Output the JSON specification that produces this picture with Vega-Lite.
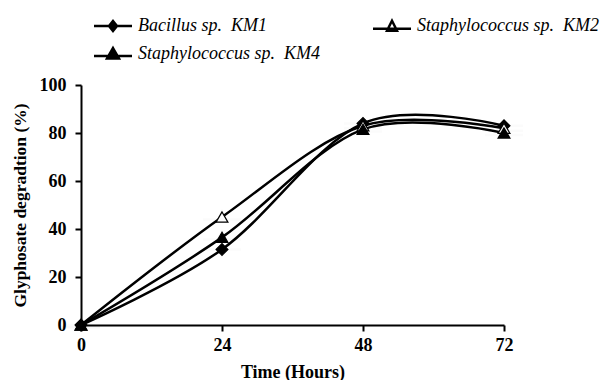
{
  "$schema": "https://vega.github.io/schema/vega-lite/v6.json",
  "autosize": "none",
  "width": 423,
  "height": 240,
  "padding": {"left": 81, "top": 85, "right": 102, "bottom": 55},
  "background": "white",
  "config": {
    "view": {"stroke": null},
    "font": "Liberation Serif",
    "axis": {
      "grid": false,
      "domainColor": "black",
      "domainWidth": 2,
      "tickColor": "black",
      "tickWidth": 2,
      "tickSize": 6,
      "labelFont": "Liberation Serif",
      "labelFontWeight": "bold",
      "labelFontSize": 18,
      "labelColor": "black",
      "titleFont": "Liberation Serif",
      "titleFontWeight": "bold",
      "titleColor": "black"
    }
  },
  "data": {
    "values": [
      {"time": 0, "series": "Bacillus sp. \u00a0KM1", "value": 0},
      {"time": 24, "series": "Bacillus sp. \u00a0KM1", "value": 31.5},
      {"time": 48, "series": "Bacillus sp. \u00a0KM1", "value": 84},
      {"time": 72, "series": "Bacillus sp. \u00a0KM1", "value": 83},
      {"time": 0, "series": "Staphylococcus sp. \u00a0KM2", "value": 0},
      {"time": 24, "series": "Staphylococcus sp. \u00a0KM2", "value": 45},
      {"time": 48, "series": "Staphylococcus sp. \u00a0KM2", "value": 83},
      {"time": 72, "series": "Staphylococcus sp. \u00a0KM2", "value": 82},
      {"time": 0, "series": "\u00a0Staphylococcus sp. \u00a0KM4", "value": 0},
      {"time": 24, "series": "\u00a0Staphylococcus sp. \u00a0KM4", "value": 36.5},
      {"time": 48, "series": "\u00a0Staphylococcus sp. \u00a0KM4", "value": 81.5},
      {"time": 72, "series": "\u00a0Staphylococcus sp. \u00a0KM4", "value": 80}
    ]
  },
  "encoding": {
    "x": {
      "field": "time", "type": "quantitative",
      "scale": {"domain": [0, 72], "nice": false, "zero": false},
      "axis": {"values": [0, 24, 48, 72], "title": "Time (Hours)", "titleFontSize": 18, "labelPadding": 5, "titlePadding": 9, "labelFlush": false}
    },
    "y": {
      "field": "value", "type": "quantitative",
      "scale": {"domain": [0, 100], "nice": false},
      "axis": {"values": [0, 20, 40, 60, 80, 100], "title": "Glyphosate degradtion (%)", "titleFontSize": 17.5, "labelPadding": 9, "titlePadding": 10}
    }
  },
  "layer": [
    {
      "mark": {"type": "line", "interpolate": "cardinal", "color": "black", "strokeWidth": 2.5},
      "encoding": {"detail": {"field": "series"}}
    },
    {
      "mark": {"type": "point", "filled": false, "stroke": "black", "strokeWidth": 1.2, "size": 140, "opacity": 1},
      "encoding": {
        "shape": {
          "field": "series", "type": "nominal",
          "scale": {"domain": ["Bacillus sp. \u00a0KM1", "Staphylococcus sp. \u00a0KM2", "\u00a0Staphylococcus sp. \u00a0KM4"], "range": ["diamond", "triangle-up", "triangle-up"]},
          "legend": null
        },
        "fill": {
          "field": "series", "type": "nominal",
          "scale": {"domain": ["Bacillus sp. \u00a0KM1", "Staphylococcus sp. \u00a0KM2", "\u00a0Staphylococcus sp. \u00a0KM4"], "range": ["black", "white", "black"]},
          "legend": null
        }
      }
    },
    {
      "mark": {"type": "point", "filled": true, "strokeWidth": 2.5, "size": 100, "opacity": 0.01},
      "encoding": {
        "fill": {
          "field": "series", "type": "nominal",
          "scale": {"domain": ["Bacillus sp. \u00a0KM1", "Staphylococcus sp. \u00a0KM2", "\u00a0Staphylococcus sp. \u00a0KM4"], "range": ["black", "white", "black"]},
          "legend": {"title": null}
        },
        "stroke": {
          "field": "series", "type": "nominal",
          "scale": {"domain": ["Bacillus sp. \u00a0KM1", "Staphylococcus sp. \u00a0KM2", "\u00a0Staphylococcus sp. \u00a0KM4"], "range": ["black", "black", "black"]},
          "legend": {"title": null}
        },
        "shape": {
          "field": "series", "type": "nominal",
          "scale": {
            "domain": ["Bacillus sp. \u00a0KM1", "Staphylococcus sp. \u00a0KM2", "\u00a0Staphylococcus sp. \u00a0KM4"],
            "range": [
              "M-3.8,0H3.8M0,-1L0.8,0L0,1L-0.8,0Z",
              "M-3.8,0.5H3.8M0,-1.1L1,0.9L-1,0.9Z",
              "M-3.8,0.4H3.8M0,-1.2L1.2,0.9L-1.2,0.9Z"
            ]
          },
          "legend": {
            "title": null,
            "orient": "none",
            "legendX": 23,
            "legendY": -68,
            "direction": "horizontal",
            "columns": 2,
            "columnPadding": 48,
            "rowPadding": 7,
            "symbolSize": 100,
            "symbolStrokeWidth": 2.5,
            "symbolOpacity": 1,
            "labelFont": "Liberation Serif",
            "labelFontStyle": "italic",
            "labelFontSize": 18,
            "labelColor": "black",
            "labelOffset": 16,
            "labelLimit": 400
          }
        }
      }
    }
  ],
  "resolve": {"scale": {"shape": "independent", "fill": "independent", "stroke": "independent"}}
}
